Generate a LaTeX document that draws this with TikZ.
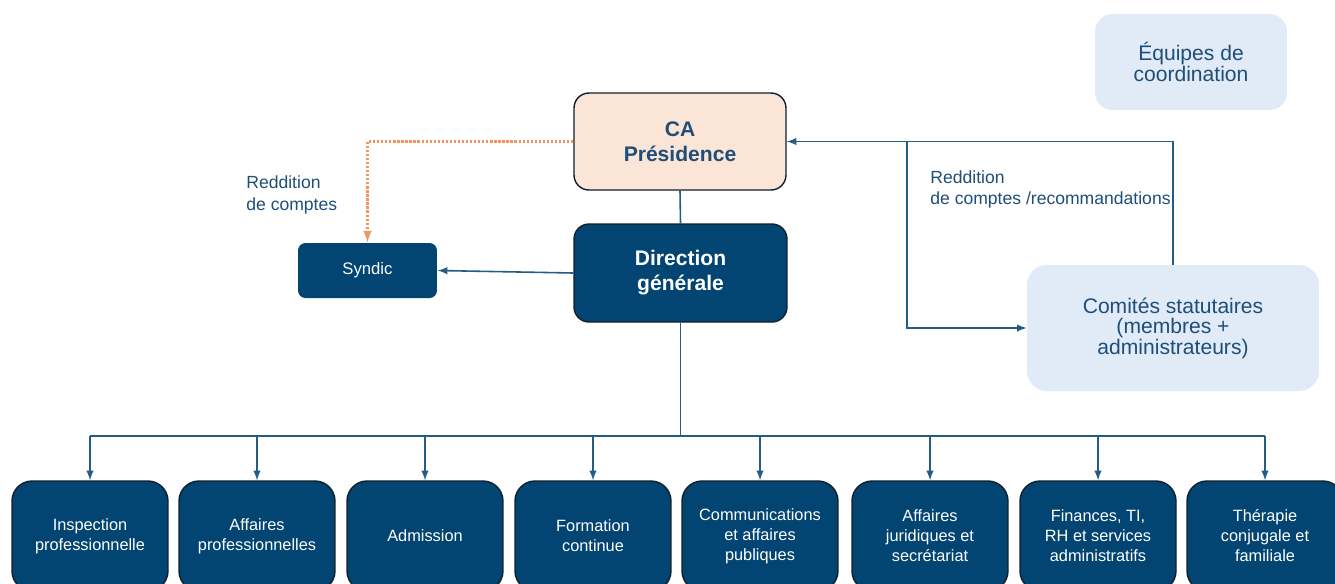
\documentclass[tikz,border=0pt]{standalone}
\usepackage{fontspec}
\setmainfont{Liberation Sans}
\definecolor{dgblue}{RGB}{2,69,114}
\definecolor{txtblue}{RGB}{31,78,121}
\definecolor{lineblue}{RGB}{35,92,132}
\definecolor{peach}{RGB}{251,229,214}
\definecolor{paleblue}{RGB}{224,235,247}
\definecolor{dotorange}{RGB}{244,146,96}
\definecolor{edgedark}{RGB}{18,32,46}
\tikzset{
  darkbox/.style={rectangle, rounded corners=0.4cm, fill=dgblue, draw=edgedark, line width=0.8pt,
    text=white, align=center},
  palebox/.style={rectangle, rounded corners=0.35cm, fill=paleblue, text=txtblue, align=center,
    font=\fontsize{12}{11.7}\selectfont},
  unitbox/.style={darkbox, minimum width=3.12cm, minimum height=2.2cm,
    font=\fontsize{9.3}{11.4}\selectfont},
  note/.style={text=txtblue, align=left, inner sep=0pt, anchor=north west,
    font=\fontsize{10}{12.3}\selectfont},
  link/.style={draw=lineblue, line width=0.9pt}
}
\begin{document}
\begin{tikzpicture}[x=0.02cm, y=-0.02cm, >=latex]
  \clip (0,0) rectangle (1335,583);
  \fill[white] (0,0) rectangle (1335,583);
  % top of the chart
  \node[rectangle, rounded corners=0.3cm, fill=peach, draw=edgedark, line width=0.8pt,
    minimum width=4.24cm, minimum height=1.94cm, align=center, text=txtblue,
    font=\bfseries\fontsize{12}{14}\selectfont] (ca) at (680,141.5) {CA\\Présidence};
  \node[darkbox, rounded corners=0.3cm, minimum width=4.26cm, minimum height=1.96cm,
    font=\bfseries\fontsize{12}{14.2}\selectfont] (dg) at (680.5,273) {Direction\\générale};
  \node[darkbox, rounded corners=0.15cm, draw=none, minimum width=2.78cm, minimum height=1.1cm,
    font=\fontsize{9.5}{11}\selectfont] (syndic) at (367.5,270.5) {Syndic};
  \node[palebox, minimum width=3.84cm, minimum height=1.92cm] (equipes) at (1191,62)
    {Équipes de\\coordination};
  \node[palebox, rounded corners=0.4cm, minimum width=5.84cm, minimum height=2.52cm] (comites)
    at (1173,328) {Comités statutaires\\(membres +\\administrateurs)};
  % the units under the direction
  \foreach \x/\t [count=\i] in {90/{Inspection\\professionnelle}, 257/{Affaires\\professionnelles},
      425/{Admission}, 593/{Formation\\continue}, 760/{Communications\\et affaires\\publiques},
      930/{Affaires\\juridiques et\\secrétariat}, 1098/{Finances, TI,\\RH et services\\administratifs},
      1265/{Thérapie\\conjugale et\\familiale}}
    {\node[unitbox] (u\i) at (\x,536) {\t};}
  % connectors
  \draw[link] (ca.south) -- (dg.north);
  \draw[link, ->] (dg.west) -- (syndic.east);
  \draw[dotorange, line width=1.2pt, dash pattern=on 1.3pt off 1pt, ->] (ca.west) -| (syndic.north);
  \draw[link, ->] (comites.north) |- (ca.east);
  \coordinate (split) at (907,142);
  \draw[link, ->] (split) |- (comites.west);
  \coordinate (bus) at (680.5,436);
  \draw[link] (dg.south) -- (bus);
  \draw[link] (u1.north |- bus) -- (u8.north |- bus);
  \foreach \i in {1,...,8}
    {\draw[link, ->] (u\i.north |- bus) -- (u\i.north);}
  \node[note, font=\fontsize{10}{12.6}\selectfont] (lblsyndic) at (246,175) {Reddition\\de comptes};
  \node[note] (lblcomites) at (930,170) {Reddition\\de comptes /recommandations};
\end{tikzpicture}
\end{document}
